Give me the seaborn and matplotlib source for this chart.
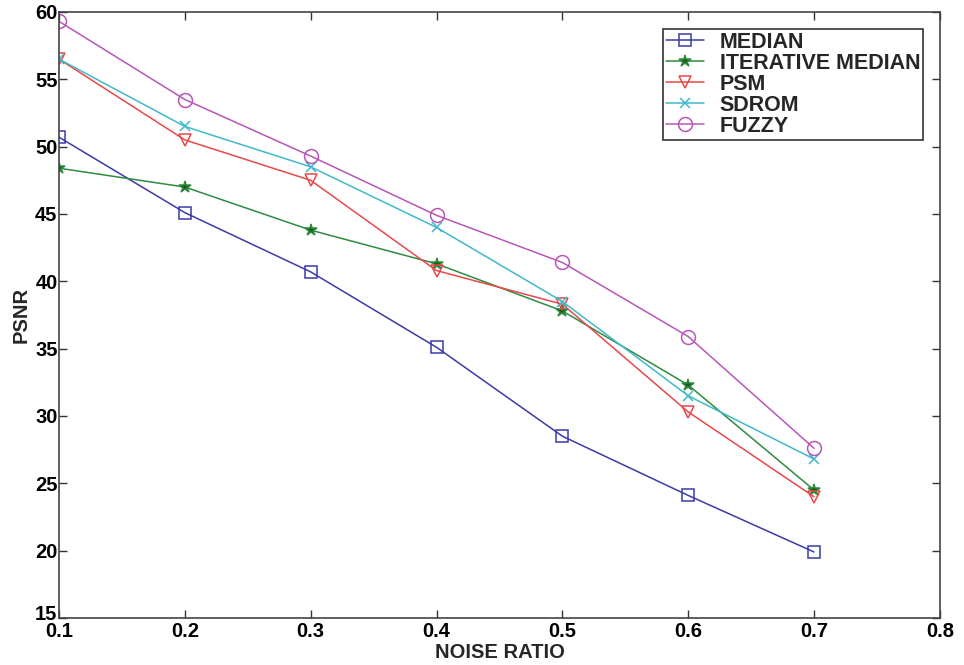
import matplotlib
matplotlib.use("Agg")
import matplotlib.pyplot as plt
import matplotlib.transforms as mtransforms
import seaborn as sns
import pandas as pd

noise = [0.1, 0.2, 0.3, 0.4, 0.5, 0.6, 0.7]
median = [50.7, 45.1, 40.7, 35.1, 28.5, 24.1, 19.9]
iterative_median = [48.4, 47.0, 43.8, 41.3, 37.8, 32.3, 24.5]
psm = [56.5, 50.5, 47.5, 40.8, 38.3, 30.3, 24.0]
sdrom = [56.5, 51.5, 48.5, 44.0, 38.5, 31.5, 26.8]
fuzzy = [59.3, 53.5, 49.3, 44.9, 41.4, 35.9, 27.6]

series_names = ["MEDIAN", "ITERATIVE MEDIAN", "PSM", "SDROM", "FUZZY"]
series_vals = [median, iterative_median, psm, sdrom, fuzzy]
xticks = [0.1, 0.2, 0.3, 0.4, 0.5, 0.6, 0.7, 0.8]
yticks = [15, 20, 25, 30, 35, 40, 45, 50, 55, 60]

sns.set_style("white")
plt.rcParams['font.family'] = ['Liberation Sans', 'DejaVu Sans']
plt.rcParams['font.weight'] = 'bold'

rows = []
for name, vals in zip(series_names, series_vals):
    for x, y in zip(noise, vals):
        rows.append({"noise": x, "psnr": y, "method": name})
df = pd.DataFrame(rows)

colors = {"MEDIAN": "#3a3aa8", "ITERATIVE MEDIAN": "#2e8a3e", "PSM": "#e84848",
          "SDROM": "#40b8cc", "FUZZY": "#b856b8"}
markers = {"MEDIAN": "s", "ITERATIVE MEDIAN": "*", "PSM": "v", "SDROM": "x", "FUZZY": "o"}
mfc = {"MEDIAN": "none", "ITERATIVE MEDIAN": "#1a5a1a", "PSM": "none", "SDROM": "none", "FUZZY": "none"}
msize = {"MEDIAN": 8, "ITERATIVE MEDIAN": 9, "PSM": 9, "SDROM": 7, "FUZZY": 10}

fig = plt.figure(figsize=(9.64, 6.65), dpi=100)
ax = fig.add_axes([0.0612, 0.0707, 0.9138, 0.9113])

for name in series_names:
    sub = df[df["method"] == name]
    sns.lineplot(data=sub, x="noise", y="psnr", ax=ax, color=colors[name],
                 marker=markers[name], markersize=msize[name],
                 markerfacecolor=mfc[name], markeredgecolor=colors[name],
                 markeredgewidth=1.1, linewidth=1.1, label=name)

ax.set_xlim(0.1, 0.8)
ax.set_ylim(15, 60)
ax.set_xticks(xticks)
ax.set_yticks(yticks)
ax.set_xticklabels([f"{t:.1f}" for t in xticks], fontsize=14.5, fontweight='bold')
ax.set_yticklabels([str(t) for t in yticks], fontsize=14.5, fontweight='bold')
ax.tick_params(direction='in', length=6, width=1, top=True, right=True,
               bottom=True, left=True, colors='#333333', labelcolor='black', pad=3)
ax.tick_params(axis='y', pad=1)
for s in ax.spines.values():
    s.set_visible(True)
    s.set_color('#444444')
    s.set_linewidth(1.2)

# nudge the lowest y label up a little so it sits above the first x label
lbl15 = ax.get_yticklabels()[0]
lbl15.set_transform(lbl15.get_transform() +
                    mtransforms.ScaledTranslation(0, 5 / 100, fig.dpi_scale_trans))

ax.set_xlabel("NOISE RATIO", fontsize=14.5, fontweight='bold', labelpad=1)
ax.set_ylabel("PSNR", fontsize=14.5, fontweight='bold', labelpad=3)

leg = ax.legend(loc='upper right', bbox_to_anchor=(0.9935, 0.99), frameon=True,
                fancybox=False, edgecolor='#333333', framealpha=1,
                prop={'size': 15.5, 'weight': 'bold'}, handlelength=1.8,
                borderpad=0.15, labelspacing=0.0, handletextpad=0.7)
leg.get_frame().set_linewidth(1.2)

fig.savefig("out.png", dpi=100)
